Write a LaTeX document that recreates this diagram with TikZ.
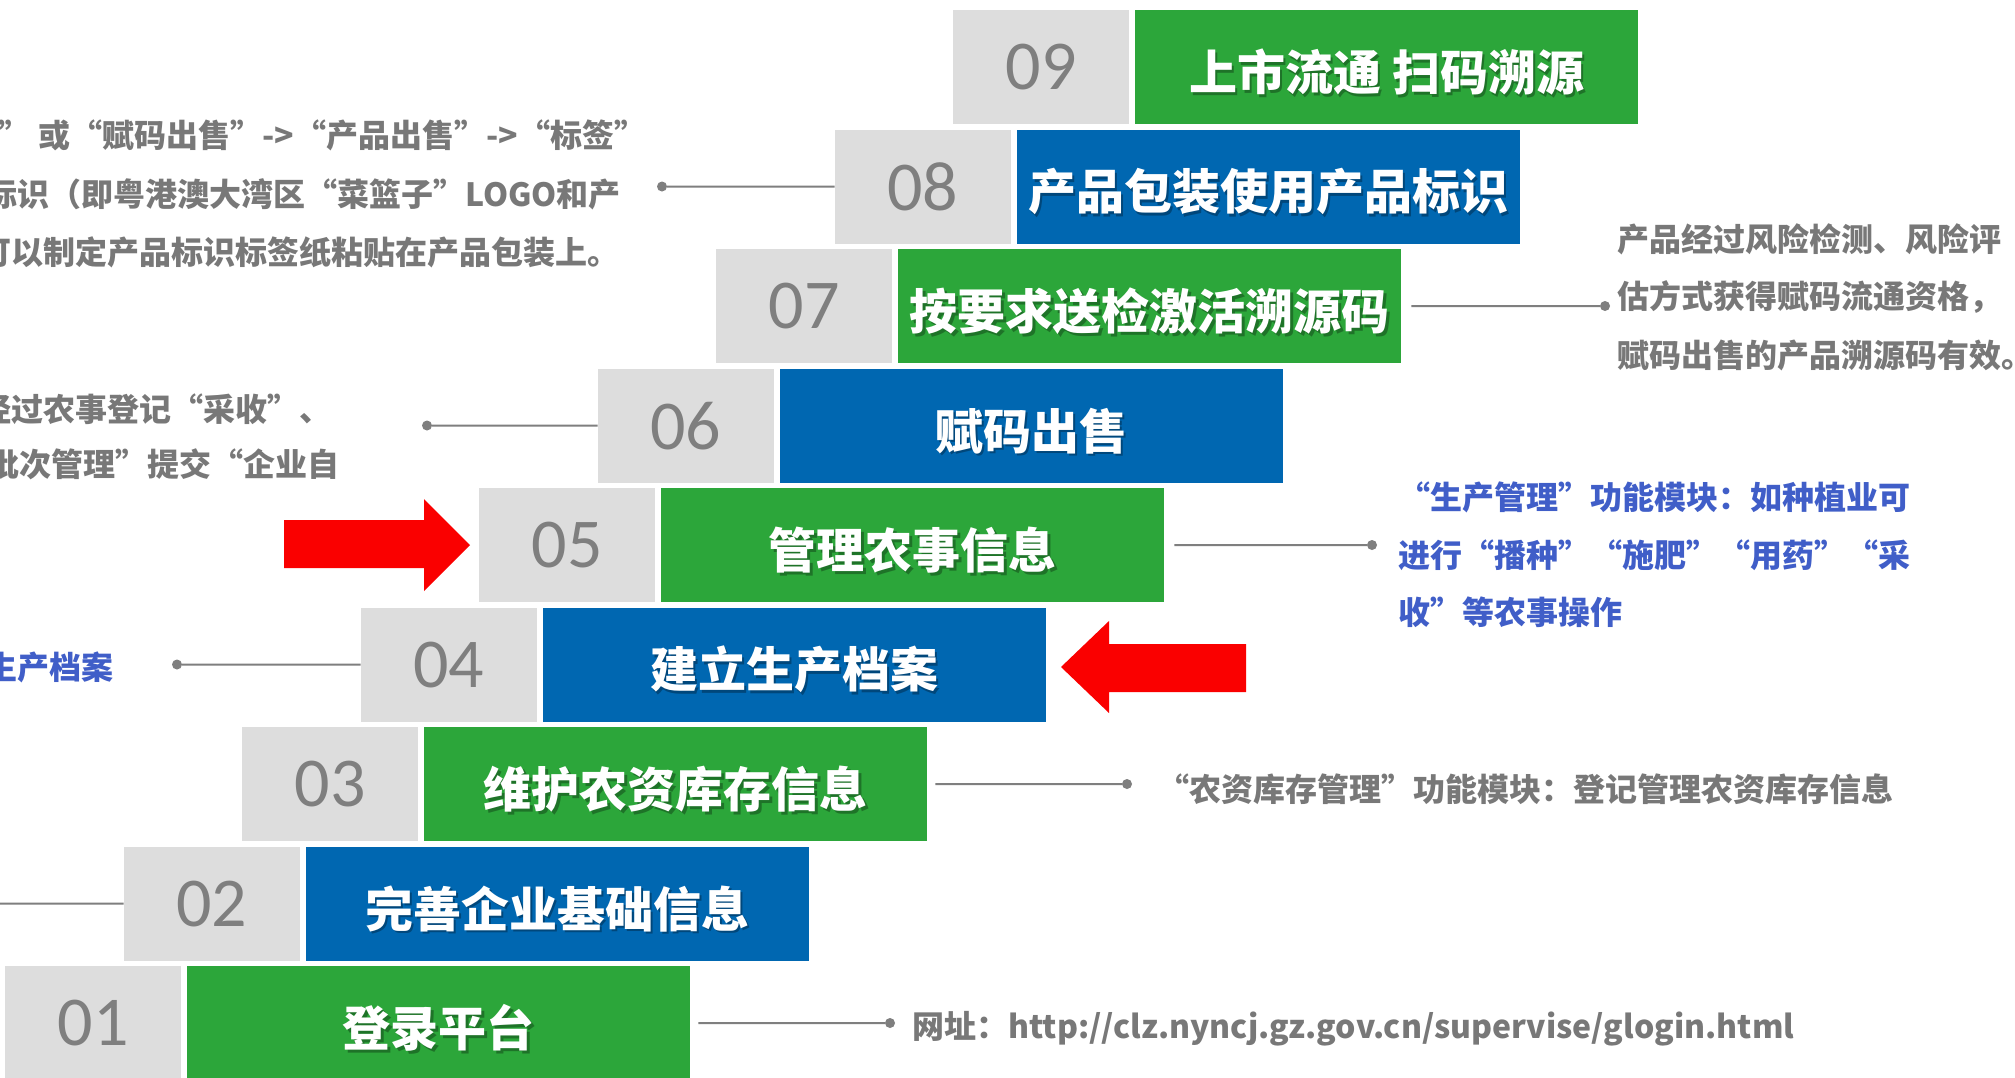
\documentclass[tikz,border=0pt]{standalone}
\usepackage{fontspec}
\newfontfamily\cjk{Noto Sans CJK SC}
\newfontfamily\numf{Carlito}
\definecolor{stepgreen}{RGB}{44,166,58}
\definecolor{stepblue}{RGB}{0,103,177}
\definecolor{numgrey}{RGB}{221,221,221}
\definecolor{numtext}{RGB}{127,127,127}
\definecolor{sidegrey}{RGB}{120,120,120}
\definecolor{sideblue}{RGB}{64,94,200}
\definecolor{arrowred}{RGB}{250,0,0}
\newcommand\makestep[5]{%
  \node[numbox] (n#1) at (#2,#3) {0#1};
  \node[colbox, fill=#4] (c#1) at (#2+182,#3) {};
  \node[boxshadow] at ([shift={(2.5,7.5)}]c#1.center) {#5};
  \node[boxtext] (t#1) at ([shift={(0,5)}]c#1.center) {#5};
}
\begin{document}
\begin{tikzpicture}[x=1pt,y=-1pt,
  numbox/.style={fill=numgrey, minimum width=176pt, minimum height=114pt, inner sep=0pt,
    anchor=north west, text=numtext, font=\numf\fontsize{70}{70}\selectfont},
  colbox/.style={minimum width=503pt, minimum height=114pt, inner sep=0pt, anchor=north west},
  boxtext/.style={text=white, inner sep=0pt, font=\cjk\bfseries\fontsize{48}{48}\selectfont},
  boxshadow/.style={boxtext, text=black, text opacity=0.3},
  sidetext/.style={text=sidegrey, inner sep=0pt, font=\cjk\bfseries\fontsize{32}{32}\selectfont},
  bluetext/.style={sidetext, text=sideblue},
  conn/.style={draw=numtext, line width=2pt},
  dotnode/.style={circle, fill=numtext, inner sep=0pt, minimum size=10pt},
  redarrow/.style={fill=arrowred, draw=none}
]
\useasboundingbox (0,0) rectangle (2015,1077);
\fill[white] (0,0) rectangle (2015,1077);

\makestep{1}{5}{966}{stepgreen}{登录平台}
\makestep{2}{123.5}{846.5}{stepblue}{完善企业基础信息}
\makestep{3}{242}{727}{stepgreen}{维护农资库存信息}
\makestep{4}{360.5}{607.5}{stepblue}{建立生产档案}
\makestep{5}{479}{488}{stepgreen}{管理农事信息}
\makestep{6}{597.5}{368.5}{stepblue}{赋码出售}
\makestep{7}{716}{249}{stepgreen}{按要求送检激活溯源码}
\makestep{8}{834.5}{129.5}{stepblue}{产品包装使用产品标识}
\makestep{9}{953}{10}{stepgreen}{上市流通 扫码溯源}

% connectors
\node[dotnode] (d8) at (662,186.5) {};
\draw[conn] (d8) -- (n8.west);
\node[dotnode] (d7) at (1605,306) {};
\draw[conn, shorten <=10pt] (c7.east) -- (d7);
\node[dotnode] (d6) at (427,425.5) {};
\draw[conn] (d6) -- (n6.west);
\node[dotnode] (d5) at (1372,545) {};
\draw[conn, shorten <=10pt] (c5.east) -- (d5);
\node[dotnode] (d4) at (177,664.5) {};
\draw[conn] (d4) -- (n4.west);
\node[dotnode] (d3) at (1127,784) {};
\draw[conn, shorten <=8pt] (c3.east) -- (d3);
\coordinate (d2) at (-40,903.5);
\draw[conn] (d2) -- (n2.west);
\node[dotnode] (d1) at (890,1023) {};
\draw[conn, shorten <=8pt] (c1.east) -- (d1);

% side texts
\node[sidetext, anchor=west] (s8a) at (-2,135) {\hbox to 648pt{”\hspace{8pt}或“赋码出售”\hfill->\hfill“产品出售”\hfill->\hfill“标签”}};
\node[sidetext, anchor=east] (s8b) at (621,194) {标识（即粤港澳大湾区“菜篮子”LOGO和产};
\node[sidetext, anchor=east] (s8c) at (620,252) {可以制定产品标识标签纸粘贴在产品包装上。};

\node[sidetext, anchor=west] (s7a) at (1617,239) {产品经过风险检测、风险评};
\node[sidetext, anchor=west] (s7b) at (1617,297) {估方式获得赋码流通资格，};
\node[sidetext, anchor=west] (s7c) at (1617,355) {赋码出售的产品溯源码有效。};

\node[sidetext, anchor=east] (s6a) at (332,409) {经过农事登记“采收”、};
\node[sidetext, anchor=east] (s6b) at (340,464) {批次管理”提交“企业自};

\node[bluetext, anchor=west] (s5a) at (1398,497) {\hbox to 512pt{“生产管理”功能模块\hfill：\hfill 如种植业可}};
\node[bluetext, anchor=west] (s5b) at (1398,555) {\hbox to 512pt{进行“播种”\hfill“施肥”\hfill“用药”\hfill“采}};
\node[bluetext, anchor=west] (s5c) at (1398,612) {收”等农事操作};

\node[bluetext, anchor=east] (s4) at (114,667) {生产档案};

\node[sidetext, anchor=west] (s3) at (1157,789) {\hbox to 722pt{“农资库存管理”功能模块\hfill：\hfill 登记管理农资库存信息}};

\node[sidetext, anchor=west] (s1) at (912,1029) {网址：http://clz.nyncj.gz.gov.cn/supervise/glogin.html};

% red arrows
\path[redarrow] (284,520) -- (424,520) -- (424,499) -- (470,545) -- (424,591) -- (424,568) -- (284,568) -- cycle;
\path[redarrow] (1246,644) -- (1109,644) -- (1109,621) -- (1061,667) -- (1109,713) -- (1109,692) -- (1246,692) -- cycle;
\end{tikzpicture}
\end{document}
